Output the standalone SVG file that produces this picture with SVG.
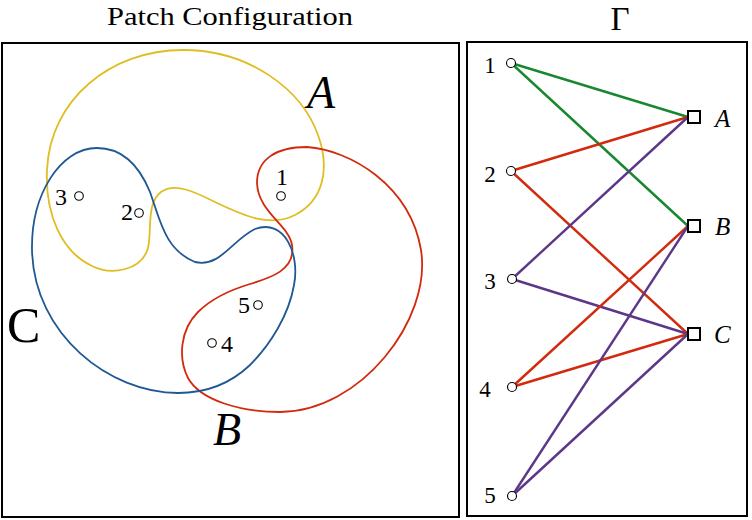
<svg xmlns="http://www.w3.org/2000/svg" width="752" height="520" viewBox="0 0 752 520">
<style>
.frame{fill:none;stroke:#000;stroke-width:2}
.curve{fill:none;stroke-width:1.8}
.edge{stroke-width:2.4;fill:none}
.pt{fill:#fff;stroke:#000;stroke-width:1.1}
.sq{fill:#fff;stroke:#000;stroke-width:2}
.t{font-family:"Liberation Serif","Times New Roman",serif;fill:#000}
.it{font-style:italic}
</style>
<rect width="752" height="520" fill="#fff"/>
<g id="titles">
<text class="t" x="230" y="25" font-size="26" text-anchor="middle" textLength="246" lengthAdjust="spacingAndGlyphs">Patch Configuration</text>
<text class="t" x="620" y="30" font-size="33" text-anchor="middle">Γ</text>
</g>
<rect class="frame" x="2" y="43" width="457" height="474"/>
<rect class="frame" x="467" y="42" width="280" height="474"/>
<g id="patches">
<g id="patchA">
<path class="curve" stroke="#e0bd22" d="M183 50 C250 50 302 90 318 135 C330 168 324 200 295 215 C270 228 242 215 215 202 C195 192 175 182 161 192 C146 203 152 232 148 248 C142 270 112 276 92 266 C62 252 45 215 47 170 C50 100 110 50 183 50 Z"/>
<text class="t it" x="307" y="108" font-size="46">A</text>
</g>
<g id="patchB">
<path class="curve" stroke="#d12a0c" d="M307 147 C350 150 410 185 421 250 C432 320 360 412 280 412 C240 412 200 400 188 378 C178 358 180 330 198 312 C212 298 230 290 250 284 C270 278 296 270 292 245 C289 225 258 212 257 183 C257 160 275 147 307 147 Z"/>
<text class="t it" x="213" y="445" font-size="46">B</text>
</g>
<g id="patchC">
<path class="curve" stroke="#1f5893" d="M97 148 C125 148 141 170 150 192 C160 220 165 250 195 262 C220 268 232 240 255 229 C285 218 300 255 294 285 C289 315 270 345 250 365 C228 386 203 393 178 393 C110 393 34 335 32 250 C31 195 60 148 97 148 Z"/>
<text class="t" x="7" y="342" font-size="50">C</text>
</g>
<g id="p1"><circle class="pt" cx="281" cy="196" r="4.3"/><text class="t" x="282" y="185" font-size="24" text-anchor="middle">1</text></g>
<g id="p2"><circle class="pt" cx="139" cy="213" r="4.3"/><text class="t" x="127" y="220" font-size="24" text-anchor="middle">2</text></g>
<g id="p3"><circle class="pt" cx="79" cy="196" r="4.3"/><text class="t" x="61" y="205" font-size="24" text-anchor="middle">3</text></g>
<g id="p4"><circle class="pt" cx="212" cy="343" r="4.3"/><text class="t" x="227" y="352" font-size="24" text-anchor="middle">4</text></g>
<g id="p5"><circle class="pt" cx="258" cy="305" r="4.3"/><text class="t" x="244" y="313" font-size="24" text-anchor="middle">5</text></g>
</g>
<g id="connectors">
<line class="edge" stroke="#17882f" x1="511" y1="63" x2="688" y2="117"/>
<line class="edge" stroke="#17882f" x1="511" y1="63" x2="688" y2="226"/>
<line class="edge" stroke="#d12a0c" x1="511" y1="171" x2="688" y2="117"/>
<line class="edge" stroke="#d12a0c" x1="511" y1="171" x2="688" y2="334"/>
<line class="edge" stroke="#5d3787" x1="512" y1="279" x2="688" y2="117"/>
<line class="edge" stroke="#5d3787" x1="512" y1="279" x2="688" y2="334"/>
<line class="edge" stroke="#d12a0c" x1="512" y1="387" x2="688" y2="226"/>
<line class="edge" stroke="#d12a0c" x1="512" y1="387" x2="688" y2="334"/>
<line class="edge" stroke="#5d3787" x1="512" y1="496" x2="688" y2="226"/>
<line class="edge" stroke="#5d3787" x1="512" y1="496" x2="688" y2="334"/>
</g>
<g id="v1"><circle class="pt" cx="511" cy="63" r="4.5"/><text class="t" x="490" y="73" font-size="23" text-anchor="middle">1</text></g>
<g id="v2"><circle class="pt" cx="511" cy="171" r="4.5"/><text class="t" x="490" y="182" font-size="23" text-anchor="middle">2</text></g>
<g id="v3"><circle class="pt" cx="512" cy="279" r="4.5"/><text class="t" x="490" y="289" font-size="23" text-anchor="middle">3</text></g>
<g id="v4"><circle class="pt" cx="512" cy="387" r="4.5"/><text class="t" x="485" y="397" font-size="23" text-anchor="middle">4</text></g>
<g id="v5"><circle class="pt" cx="512" cy="496" r="4.5"/><text class="t" x="490" y="503" font-size="23" text-anchor="middle">5</text></g>
<g id="nA"><rect class="sq" x="688" y="111" width="12" height="12"/><text class="t it" x="715" y="127" font-size="25">A</text></g>
<g id="nB"><rect class="sq" x="688" y="220" width="12" height="12"/><text class="t it" x="715" y="235" font-size="25">B</text></g>
<g id="nC"><rect class="sq" x="688" y="328" width="12" height="12"/><text class="t it" x="714" y="343" font-size="25">C</text></g>
</svg>
